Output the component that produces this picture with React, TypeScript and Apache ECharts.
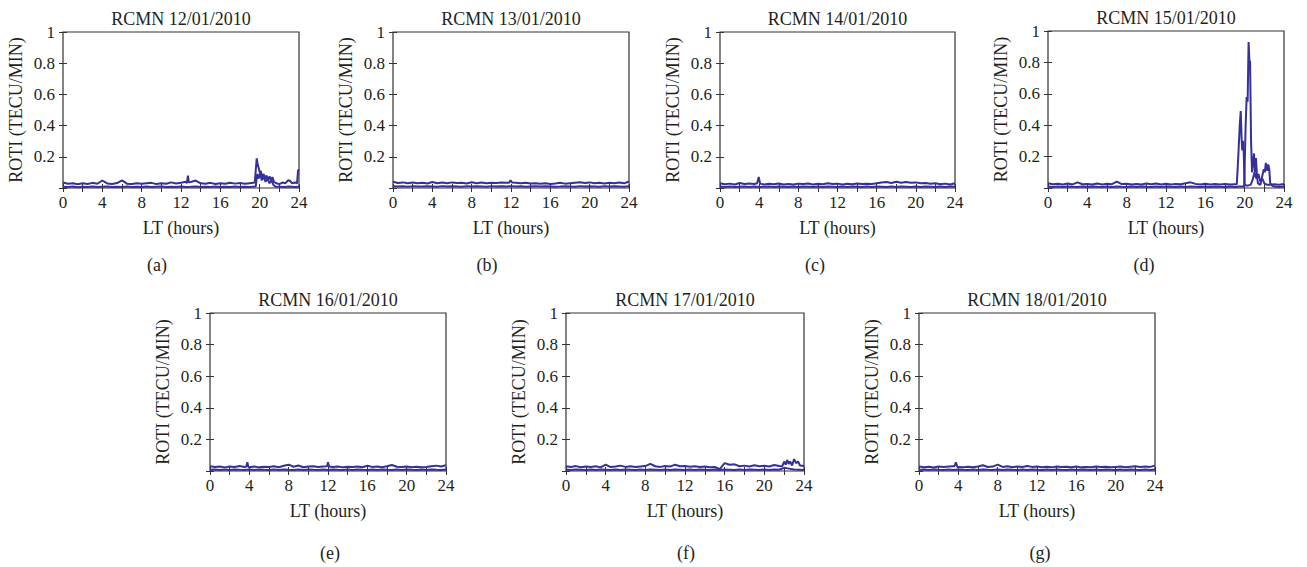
import React, { useEffect, useRef } from "react";
import * as echarts from "echarts";

// ---------- DATA ----------
const HOURS = [
  0, 0.5, 1, 1.5, 2, 2.5, 3, 3.5,
  4, 4.5, 5, 5.5, 6, 6.5, 7, 7.5,
  8, 8.5, 9, 9.5, 10, 10.5, 11, 11.5,
  12, 12.5, 13, 13.5, 14, 14.5, 15, 15.5,
  16, 16.5, 17, 17.5, 18, 18.5, 19, 19.5,
  20, 20.5, 21, 21.5, 22, 22.5, 23, 23.5,
  24,
];

const TITLES = [
  "RCMN 12/01/2010",
  "RCMN 13/01/2010",
  "RCMN 14/01/2010",
  "RCMN 15/01/2010",
  "RCMN 16/01/2010",
  "RCMN 17/01/2010",
  "RCMN 18/01/2010",
];
const PANEL_LABELS = ["(a)", "(b)", "(c)", "(d)", "(e)", "(f)", "(g)"];
const X_LABEL = "LT (hours)";
const Y_LABEL = "ROTI (TECU/MIN)";

// (a) 12/01
const A_UPPER = [
  0.035, 0.027, 0.031, 0.024, 0.030, 0.026, 0.033, 0.027,
  0.048, 0.029, 0.026, 0.032, 0.049, 0.028, 0.025, 0.031,
  0.027, 0.030, 0.033, 0.025, 0.030, 0.027, 0.036, 0.029,
  0.034, 0.040, 0.038, 0.048, 0.030, 0.027, 0.033, 0.026,
  0.031, 0.027, 0.034, 0.028, 0.032, 0.027, 0.031, 0.035,
  0.100, 0.070, 0.070, 0.030, 0.025, 0.030, 0.045, 0.030,
  0.120,
];
const A_UPPER_EVENTS = [
  [[12.6, 0.032], [12.7, 0.08], [12.8, 0.036]],
  [[19.55, 0.035], [19.7, 0.19], [19.8, 0.15], [19.9, 0.13], [20.0, 0.1], [20.1, 0.11], [20.25, 0.07],
   [20.4, 0.09], [20.55, 0.06], [20.7, 0.08], [20.85, 0.05], [21.0, 0.075], [21.15, 0.05], [21.3, 0.07],
   [21.45, 0.04], [21.7, 0.03], [22.0, 0.025], [22.3, 0.035], [22.6, 0.03], [22.9, 0.05], [23.1, 0.045],
   [23.3, 0.03], [23.6, 0.035], [23.8, 0.03], [23.9, 0.11], [24, 0.12]],
];
const A_LOWER = [
  0.008, 0.006, 0.009, 0.005, 0.008, 0.007, 0.010, 0.006,
  0.008, 0.009, 0.006, 0.008, 0.007, 0.010, 0.006, 0.008,
  0.007, 0.009, 0.006, 0.008, 0.010, 0.007, 0.008, 0.006,
  0.009, 0.007, 0.008, 0.010, 0.006, 0.008, 0.007, 0.009,
  0.006, 0.008, 0.007, 0.009, 0.006, 0.008, 0.007, 0.009,
  0.040, 0.050, 0.030, 0.010, 0.008, 0.006, 0.009, 0.007,
  0.008,
];
const A_LOWER_EVENTS = [
  [[19.6, 0.01], [19.75, 0.09], [19.9, 0.06], [20.05, 0.1], [20.2, 0.05], [20.4, 0.07], [20.6, 0.04],
   [20.8, 0.06], [21.0, 0.03], [21.2, 0.05], [21.4, 0.02], [21.6, 0.008]],
];

// (b) 13/01
const B_UPPER = [
  0.040, 0.032, 0.036, 0.030, 0.035, 0.031, 0.034, 0.029,
  0.038, 0.031, 0.035, 0.030, 0.036, 0.032, 0.034, 0.029,
  0.037, 0.031, 0.035, 0.030, 0.034, 0.032, 0.036, 0.033,
  0.045, 0.034, 0.030, 0.033, 0.029, 0.031, 0.027, 0.030,
  0.026, 0.029, 0.033, 0.028, 0.031, 0.034, 0.037, 0.032,
  0.036, 0.030, 0.033, 0.029, 0.034, 0.031, 0.035, 0.030,
  0.042,
];
const B_UPPER_EVENTS = [[[11.8, 0.033], [11.95, 0.05], [12.1, 0.036]]];
const B_LOWER = [
  0.012, 0.009, 0.011, 0.008, 0.012, 0.010, 0.009, 0.011,
  0.010, 0.008, 0.012, 0.009, 0.011, 0.010, 0.008, 0.012,
  0.009, 0.011, 0.010, 0.008, 0.012, 0.009, 0.011, 0.010,
  0.012, 0.009, 0.011, 0.008, 0.010, 0.012, 0.009, 0.011,
  0.010, 0.008, 0.009, 0.011, 0.010, 0.008, 0.012, 0.009,
  0.011, 0.010, 0.008, 0.012, 0.009, 0.011, 0.010, 0.008,
  0.012,
];

// (c) 14/01
const C_UPPER = [
  0.030, 0.024, 0.028, 0.022, 0.032, 0.025, 0.029, 0.026,
  0.030, 0.022, 0.027, 0.024, 0.029, 0.023, 0.026, 0.022,
  0.028, 0.025, 0.029, 0.023, 0.027, 0.024, 0.030, 0.025,
  0.028, 0.023, 0.027, 0.024, 0.029, 0.025, 0.028, 0.026,
  0.031, 0.035, 0.038, 0.032, 0.040, 0.034, 0.038, 0.033,
  0.036, 0.030, 0.032, 0.027, 0.030, 0.024, 0.028, 0.023,
  0.030,
];
const C_UPPER_EVENTS = [[[3.8, 0.03], [3.95, 0.07], [4.1, 0.028]]];
const C_LOWER = [
  0.009, 0.007, 0.010, 0.006, 0.008, 0.009, 0.007, 0.010,
  0.006, 0.008, 0.009, 0.007, 0.010, 0.008, 0.006, 0.009,
  0.007, 0.010, 0.008, 0.006, 0.009, 0.007, 0.010, 0.008,
  0.006, 0.009, 0.007, 0.010, 0.008, 0.006, 0.009, 0.007,
  0.010, 0.008, 0.006, 0.009, 0.007, 0.010, 0.008, 0.006,
  0.009, 0.007, 0.010, 0.008, 0.006, 0.009, 0.007, 0.010,
  0.008,
];

// (d) 15/01
const D_UPPER = [
  0.030, 0.024, 0.027, 0.022, 0.028, 0.023, 0.036, 0.024,
  0.026, 0.022, 0.028, 0.023, 0.027, 0.024, 0.040, 0.025,
  0.027, 0.022, 0.026, 0.023, 0.028, 0.024, 0.029, 0.022,
  0.027, 0.023, 0.026, 0.024, 0.030, 0.036, 0.026, 0.022,
  0.027, 0.023, 0.025, 0.022, 0.026, 0.023, 0.024, 0.022,
  0.020, 0.030, 0.060, 0.040, 0.030, 0.020, 0.024, 0.021,
  0.026,
];
const D_UPPER_EVENTS = [
  [[19.2, 0.024], [19.35, 0.2], [19.5, 0.4], [19.6, 0.49], [19.68, 0.33], [19.75, 0.24], [19.82, 0.3],
   [19.9, 0.23], [20.0, 0.02], [20.2, 0.015], [20.6, 0.02], [20.8, 0.05], [21.0, 0.1], [21.2, 0.06],
   [21.4, 0.09], [21.6, 0.04], [21.8, 0.06], [22.0, 0.03], [22.3, 0.02]],
];
const D_LOWER = [
  0.010, 0.007, 0.009, 0.006, 0.010, 0.008, 0.007, 0.009,
  0.006, 0.010, 0.008, 0.007, 0.009, 0.006, 0.010, 0.008,
  0.007, 0.009, 0.006, 0.010, 0.008, 0.007, 0.009, 0.006,
  0.010, 0.008, 0.007, 0.009, 0.006, 0.010, 0.008, 0.007,
  0.009, 0.006, 0.010, 0.008, 0.007, 0.009, 0.006, 0.010,
  0.300, 0.600, 0.150, 0.050, 0.120, 0.140, 0.009, 0.007,
  0.010,
];
const D_LOWER_EVENTS = [
  [[19.95, 0.01], [20.1, 0.4], [20.2, 0.58], [20.3, 0.55], [20.4, 0.93], [20.5, 0.78], [20.55, 0.81],
   [20.65, 0.3], [20.75, 0.1], [20.85, 0.16], [20.95, 0.22], [21.05, 0.1], [21.15, 0.19], [21.25, 0.08],
   [21.35, 0.03], [21.6, 0.02], [21.8, 0.08], [21.95, 0.12], [22.05, 0.1], [22.15, 0.16], [22.3, 0.11],
   [22.4, 0.15], [22.5, 0.12], [22.6, 0.03], [22.8, 0.015]],
];

// (e) 16/01
const E_UPPER = [
  0.030, 0.026, 0.028, 0.023, 0.029, 0.025, 0.031, 0.026,
  0.024, 0.028, 0.023, 0.027, 0.025, 0.030, 0.024, 0.033,
  0.040, 0.027, 0.035, 0.024, 0.028, 0.030, 0.025, 0.029,
  0.031, 0.026, 0.028, 0.023, 0.027, 0.025, 0.029, 0.024,
  0.033, 0.026, 0.028, 0.024, 0.030, 0.038, 0.027, 0.025,
  0.029, 0.024, 0.027, 0.023, 0.026, 0.030, 0.034, 0.028,
  0.036,
];
const E_UPPER_EVENTS = [
  [[3.7, 0.028], [3.8, 0.055], [3.9, 0.026]],
  [[11.9, 0.03], [12.0, 0.055], [12.1, 0.028]],
];
const E_LOWER = [
  0.008, 0.010, 0.007, 0.009, 0.006, 0.010, 0.008, 0.007,
  0.009, 0.006, 0.010, 0.008, 0.007, 0.009, 0.006, 0.010,
  0.008, 0.007, 0.009, 0.006, 0.010, 0.008, 0.007, 0.009,
  0.006, 0.010, 0.008, 0.007, 0.009, 0.006, 0.010, 0.008,
  0.007, 0.009, 0.006, 0.010, 0.008, 0.007, 0.009, 0.006,
  0.010, 0.008, 0.007, 0.009, 0.006, 0.010, 0.008, 0.007,
  0.009,
];

// (f) 17/01
const F_UPPER = [
  0.030, 0.025, 0.031, 0.024, 0.028, 0.026, 0.030, 0.023,
  0.040, 0.025, 0.029, 0.034, 0.026, 0.030, 0.025, 0.028,
  0.031, 0.045, 0.030, 0.026, 0.032, 0.028, 0.040, 0.030,
  0.032, 0.027, 0.030, 0.026, 0.028, 0.024, 0.026, 0.012,
  0.050, 0.040, 0.042, 0.030, 0.034, 0.028, 0.036, 0.030,
  0.033, 0.028, 0.038, 0.032, 0.065, 0.055, 0.075, 0.040,
  0.032,
];
const F_UPPER_EVENTS = [
  [[21.8, 0.03], [22.0, 0.06], [22.15, 0.04], [22.3, 0.07], [22.45, 0.045], [22.6, 0.06], [22.8, 0.035],
   [23.0, 0.075], [23.2, 0.05], [23.4, 0.06], [23.6, 0.035]],
];
const F_LOWER = [
  0.009, 0.007, 0.010, 0.008, 0.006, 0.009, 0.007, 0.010,
  0.008, 0.006, 0.009, 0.007, 0.010, 0.008, 0.006, 0.009,
  0.007, 0.010, 0.008, 0.006, 0.009, 0.007, 0.010, 0.008,
  0.006, 0.009, 0.007, 0.010, 0.008, 0.006, 0.009, 0.007,
  0.010, 0.008, 0.006, 0.009, 0.007, 0.010, 0.008, 0.006,
  0.009, 0.007, 0.010, 0.008, 0.020, 0.015, 0.010, 0.008,
  0.006,
];

// (g) 18/01
const G_UPPER = [
  0.028, 0.024, 0.027, 0.022, 0.029, 0.025, 0.028, 0.030,
  0.026, 0.023, 0.027, 0.024, 0.029, 0.036, 0.025, 0.028,
  0.040, 0.026, 0.030, 0.024, 0.028, 0.025, 0.032, 0.026,
  0.029, 0.024, 0.027, 0.023, 0.028, 0.025, 0.027, 0.024,
  0.028, 0.023, 0.026, 0.024, 0.029, 0.025, 0.027, 0.023,
  0.026, 0.028, 0.024, 0.027, 0.030, 0.025, 0.029, 0.026,
  0.034,
];
const G_UPPER_EVENTS = [[[3.6, 0.03], [3.75, 0.055], [3.9, 0.025]]];
const G_LOWER = [
  0.007, 0.009, 0.006, 0.010, 0.008, 0.007, 0.009, 0.006,
  0.010, 0.008, 0.007, 0.009, 0.006, 0.010, 0.008, 0.007,
  0.009, 0.006, 0.010, 0.008, 0.007, 0.009, 0.006, 0.010,
  0.008, 0.007, 0.009, 0.006, 0.010, 0.008, 0.007, 0.009,
  0.006, 0.010, 0.008, 0.007, 0.009, 0.006, 0.010, 0.008,
  0.007, 0.009, 0.006, 0.010, 0.008, 0.007, 0.009, 0.006,
  0.010,
];

const PANELS = [
  { upper: A_UPPER, upperEv: A_UPPER_EVENTS, lower: A_LOWER, lowerEv: A_LOWER_EVENTS },
  { upper: B_UPPER, upperEv: B_UPPER_EVENTS, lower: B_LOWER, lowerEv: [] },
  { upper: C_UPPER, upperEv: C_UPPER_EVENTS, lower: C_LOWER, lowerEv: [] },
  { upper: D_UPPER, upperEv: D_UPPER_EVENTS, lower: D_LOWER, lowerEv: D_LOWER_EVENTS },
  { upper: E_UPPER, upperEv: E_UPPER_EVENTS, lower: E_LOWER, lowerEv: [] },
  { upper: F_UPPER, upperEv: F_UPPER_EVENTS, lower: F_LOWER, lowerEv: [] },
  { upper: G_UPPER, upperEv: G_UPPER_EVENTS, lower: G_LOWER, lowerEv: [] },
];

// ---------- LAYOUT ----------
const LAYOUT = [
  { left: 63, top: 32, width: 236, height: 156, sub: [157, 265] },
  { left: 393, top: 32, width: 236, height: 156, sub: [487, 265] },
  { left: 720, top: 32, width: 235, height: 156, sub: [815, 265] },
  { left: 1048, top: 31, width: 236, height: 157, sub: [1144, 265] },
  { left: 210, top: 313, width: 236, height: 158, sub: [330, 553] },
  { left: 566, top: 313, width: 238, height: 158, sub: [686, 553] },
  { left: 919, top: 313, width: 236, height: 158, sub: [1040, 553] },
];

const LINE_COLOR = "#35309a";
const AXIS_COLOR = "#333333";
const TEXT_COLOR = "#231f20";
const FONT = "'Liberation Serif', 'DejaVu Serif', serif";

function buildLine(base: number[], events: number[][][]) {
  const pts: number[][] = [];
  HOURS.forEach((h, i) => {
    const inEvent = events.some((ev) => h >= ev[0][0] && h <= ev[ev.length - 1][0]);
    if (!inEvent && i < base.length) pts.push([h, base[i]]);
  });
  events.forEach((ev) => ev.forEach((p) => pts.push(p)));
  pts.sort((a, b) => a[0] - b[0]);
  return pts;
}

function buildOption() {
  const grid: any[] = [];
  const xAxis: any[] = [];
  const yAxis: any[] = [];
  const series: any[] = [];
  const graphic: any[] = [];

  LAYOUT.forEach((L, i) => {
    grid.push({
      left: L.left,
      top: L.top,
      width: L.width,
      height: L.height,
      show: true,
      borderColor: AXIS_COLOR,
      borderWidth: 1.2,
      backgroundColor: "transparent",
    });
    const tick = { show: true, inside: true, length: 4, lineStyle: { color: AXIS_COLOR, width: 1 } };
    xAxis.push({
      gridIndex: i,
      type: "value",
      position: "bottom",
      min: 0,
      max: 24,
      interval: 2,
      axisLine: { show: false },
      axisTick: tick,
      splitLine: { show: false },
      axisLabel: {
        margin: 6,
        fontSize: 17,
        fontFamily: FONT,
        color: TEXT_COLOR,
        formatter: (v: number) => (v % 4 === 0 ? String(v) : ""),
      },
    });
    xAxis.push({
      gridIndex: i,
      type: "value",
      position: "top",
      min: 0,
      max: 24,
      interval: 2,
      axisLine: { show: false },
      axisTick: tick,
      splitLine: { show: false },
      axisLabel: { show: false },
    });
    yAxis.push({
      gridIndex: i,
      type: "value",
      position: "left",
      min: 0,
      max: 1,
      interval: 0.2,
      axisLine: { show: false },
      axisTick: tick,
      splitLine: { show: false },
      axisLabel: {
        margin: 8,
        fontSize: 17,
        fontFamily: FONT,
        color: TEXT_COLOR,
        formatter: (v: number) => (v === 0 ? "" : String(Math.round(v * 10) / 10)),
      },
    });
    yAxis.push({
      gridIndex: i,
      type: "value",
      position: "right",
      min: 0,
      max: 1,
      interval: 0.2,
      axisLine: { show: false },
      axisTick: tick,
      splitLine: { show: false },
      axisLabel: { show: false },
    });

    const P = PANELS[i];
    [buildLine(P.lower, P.lowerEv), buildLine(P.upper, P.upperEv)].forEach((data) => {
      series.push({
        type: "line",
        xAxisIndex: 2 * i,
        yAxisIndex: 2 * i,
        data,
        showSymbol: false,
        symbol: "none",
        lineStyle: { color: LINE_COLOR, width: 2 },
        silent: true,
      });
    });

    const cx = L.left + L.width / 2;
    const textStyle = (text: string, size: number) => ({
      text,
      fontSize: size,
      fontFamily: FONT,
      fill: TEXT_COLOR,
      textAlign: "center",
      textVerticalAlign: "middle",
    });
    graphic.push({ type: "text", x: cx, y: L.top - 13, style: textStyle(TITLES[i], 18) });
    graphic.push({ type: "text", x: cx, y: L.top + L.height + 40, style: textStyle(X_LABEL, 18) });
    graphic.push({
      type: "text",
      x: L.left - 47,
      y: L.top + L.height / 2,
      rotation: Math.PI / 2,
      style: textStyle(Y_LABEL, 18),
    });
    graphic.push({ type: "text", x: L.sub[0], y: L.sub[1], style: textStyle(PANEL_LABELS[i], 18) });
  });

  return {
    animation: false,
    backgroundColor: "#ffffff",
    grid,
    xAxis,
    yAxis,
    series,
    graphic,
  };
}

export default function App() {
  const ref = useRef<HTMLDivElement>(null);
  useEffect(() => {
    if (!ref.current) return;
    const chart = echarts.init(ref.current, undefined, { renderer: "svg" });
    chart.setOption(buildOption() as any);
    return () => chart.dispose();
  }, []);
  return (
    <div
      ref={ref}
      style={{ position: "fixed", left: 0, top: 0, width: 1307, height: 567, background: "#fff" }}
    />
  );
}
